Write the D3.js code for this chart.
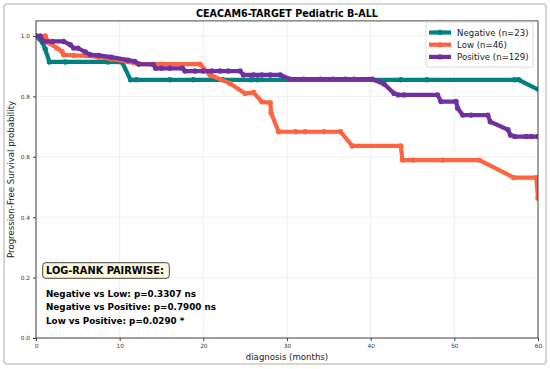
<!DOCTYPE html>
<html>
<head>
<meta charset="utf-8">
<script src="https://cdn.jsdelivr.net/npm/d3@7"></script>
<style>
  body { margin: 0; background: #fff; }
  text { font-family: "DejaVu Sans", sans-serif; }
</style>
</head>
<body>
<svg id="drawing_region" width="550" height="369"></svg>
<script>
// group names, colours and KM points: [months, survival]
var groups = ["Negative (n=23)", "Low (n=46)", "Positive (n=129)"];
var colors = ["#008080", "#ff6340", "#7030a0"];

var negative = [[0,1.0],[0.8,0.978],[1.1,0.957],[1.6,0.914],[3.5,0.914],[8.6,0.914],[10.3,0.913],
  [11.3,0.855],[12,0.855],[16,0.855],[18.8,0.855],[22.3,0.855],[25.7,0.855],[26.5,0.855],
  [43.6,0.855],[46.7,0.855],[57.2,0.855],[57.7,0.855],[60.5,0.815]];

var low = [[0,1.0],[1.1,1.0],[1.5,0.978],[2.5,0.960],[3.1,0.949],[3.3,0.938],[4.5,0.936],[6,0.935],
  [7.5,0.930],[9,0.924],[11,0.915],[12.3,0.907],[15,0.907],[19.6,0.907],[20.8,0.871],[23.2,0.843],
  [25,0.810],[26,0.813],[27,0.782],[28,0.779],[28.1,0.745],[29,0.683],[31,0.683],[32.2,0.683],
  [34.4,0.683],[36.4,0.683],[37.8,0.636],[43.6,0.636],[43.8,0.589],[45.1,0.589],[48.6,0.589],
  [53,0.589],[57.1,0.531],[59.8,0.531],[60,0.463]];

var positive = [[0,1.0],[0.5,1.0],[0.9,0.982],[2,0.982],[3.3,0.982],[4.1,0.971],[4.5,0.960],[5,0.960],
  [5.9,0.947],[6.5,0.938],[7.5,0.936],[9,0.930],[11,0.920],[11.8,0.916],[12.3,0.907],[14,0.906],
  [14.3,0.893],[15,0.893],[16,0.893],[17.5,0.893],[17.8,0.884],[19,0.884],[20,0.884],[21,0.884],
  [22,0.884],[23,0.884],[24.4,0.884],[24.8,0.871],[26,0.871],[27,0.871],[28,0.871],[29.2,0.871],
  [30.4,0.857],[32,0.857],[34,0.857],[35.5,0.857],[37,0.857],[38,0.857],[40.2,0.857],[41.6,0.841],
  [42.8,0.810],[43.3,0.805],[44,0.805],[48,0.805],[48.4,0.783],[50.2,0.783],[50.4,0.761],[51,0.738],
  [52,0.738],[54,0.738],[54.3,0.716],[56.4,0.690],[56.7,0.672],[57.2,0.667],[58.6,0.667],[59.2,0.667],[60,0.667]];

var series = [negative, low, positive];
var xticks = [0, 10, 20, 30, 40, 50, 60];
var yticks = [0, 0.2, 0.4, 0.6, 0.8, 1.0];
var pairwise = ["Negative vs Low: p=0.3307 ns",
                "Negative vs Positive: p=0.7900 ns",
                "Low vs Positive: p=0.0290 *"];

var width = 550;
var height = 369;
var margin = { top: 20.9, right: 12, bottom: 31, left: 36 };
const inner_width = width - margin.left - margin.right;
const inner_height = height - margin.top - margin.bottom;

var svg = d3.select('#drawing_region');

// figure frame
svg.append('rect')
    .attr('x', 4).attr('y', 4).attr('width', 542).attr('height', 360)
    .attr('rx', 3)
    .attr('fill', '#fff').attr('stroke', '#c8c8c8').attr('stroke-width', 1.5);

svg.append('text')
    .attr('x', margin.left + inner_width / 2).attr('y', 16.5)
    .attr('text-anchor', 'middle')
    .attr('font-size', '9.6px').attr('font-weight', 'bold')
    .text('CEACAM6-TARGET Pediatric B-ALL');

var chart = svg.append('g')
    .attr('transform', `translate(${margin.left}, ${margin.top})`);

const xscale = d3.scaleLinear().domain([0, 60]).range([0, inner_width]);
const yscale = d3.scaleLinear().domain([0, 1.05]).range([inner_height, 0]);

// grid
chart.append('g').selectAll('line').data(xticks).join('line')
    .attr('x1', d => xscale(d)).attr('x2', d => xscale(d))
    .attr('y1', 0).attr('y2', inner_height)
    .attr('stroke', '#ebebeb').attr('stroke-width', 0.8);
chart.append('g').selectAll('line').data(yticks).join('line')
    .attr('y1', d => yscale(d)).attr('y2', d => yscale(d))
    .attr('x1', 0).attr('x2', inner_width)
    .attr('stroke', '#ebebeb').attr('stroke-width', 0.8);

// axes
const xaxis = d3.axisBottom(xscale).tickValues(xticks).tickSize(3).tickFormat(d3.format('d'));
const yaxis = d3.axisLeft(yscale).tickValues(yticks).tickSize(3).tickFormat(d3.format('.1f'));

const xaxis_group = chart.append('g')
    .attr('transform', `translate(0, ${inner_height})`)
    .call(xaxis);
const yaxis_group = chart.append('g')
    .call(yaxis);

[xaxis_group, yaxis_group].forEach(g => {
    g.select('.domain').remove();
    g.selectAll('line').attr('stroke', '#444');
    g.selectAll('text').attr('font-size', '5.8px').attr('fill', '#333');
});

chart.append('text')
    .attr('x', inner_width / 2).attr('y', inner_height + 22)
    .attr('text-anchor', 'middle').attr('font-size', '8.6px').attr('fill', '#222')
    .text('diagnosis (months)');

chart.append('text')
    .attr('transform', `translate(${-22}, ${inner_height / 2}) rotate(-90)`)
    .attr('text-anchor', 'middle').attr('font-size', '8.6px').attr('fill', '#222')
    .text('Progression-Free Survival probability');

// curves
chart.append('clipPath').attr('id', 'clip')
    .append('rect').attr('width', inner_width).attr('height', inner_height);

var plot = chart.append('g').attr('clip-path', 'url(#clip)');

const line = d3.line().x(d => xscale(d[0])).y(d => yscale(d[1]));

series.forEach((s, i) => {
    var g = plot.append('g');
    g.append('path')
        .attr('d', line(s))
        .attr('fill', 'none')
        .attr('stroke', colors[i])
        .attr('stroke-width', 4.2)
        .attr('stroke-linejoin', 'round');
    g.selectAll('circle').data(s).join('circle')
        .attr('cx', d => xscale(d[0]))
        .attr('cy', d => yscale(d[1]))
        .attr('r', 2.7)
        .attr('fill', colors[i]);
});

// spines
chart.append('rect')
    .attr('width', inner_width).attr('height', inner_height)
    .attr('fill', 'none').attr('stroke', '#333').attr('stroke-width', 0.9);

// legend
var legend = chart.append('g').attr('transform', `translate(${426 - margin.left}, ${22 - margin.top})`);
legend.append('rect')
    .attr('width', 107).attr('height', 45).attr('rx', 2)
    .attr('fill', '#fff').attr('fill-opacity', 0.85)
    .attr('stroke', '#d0d0d0').attr('stroke-width', 0.8);
groups.forEach((name, i) => {
    var yy = 10.5 + i * 12.2;
    legend.append('line')
        .attr('x1', 3).attr('x2', 25).attr('y1', yy).attr('y2', yy)
        .attr('stroke', colors[i]).attr('stroke-width', 4.2);
    legend.append('circle')
        .attr('cx', 14).attr('cy', yy).attr('r', 2.7).attr('fill', colors[i]);
    legend.append('text')
        .attr('x', 31).attr('y', yy + 3)
        .attr('font-size', '8.6px').attr('fill', '#222')
        .text(name);
});

// log-rank annotation
svg.append('rect')
    .attr('x', 42.7).attr('y', 262.7).attr('width', 126.6).attr('height', 15.6)
    .attr('rx', 3)
    .attr('fill', '#fdf7dc').attr('stroke', '#333').attr('stroke-width', 0.9);
svg.append('text')
    .attr('x', 46).attr('y', 274.3)
    .attr('font-size', '9.8px').attr('font-weight', 'bold')
    .text('LOG-RANK PAIRWISE:');

svg.append('g').selectAll('text').data(pairwise).join('text')
    .attr('x', 46)
    .attr('y', (d, i) => 296.5 + i * 13.8)
    .attr('font-size', '8.8px').attr('font-weight', 'bold')
    .text(d => d);
</script>
</body>
</html>
